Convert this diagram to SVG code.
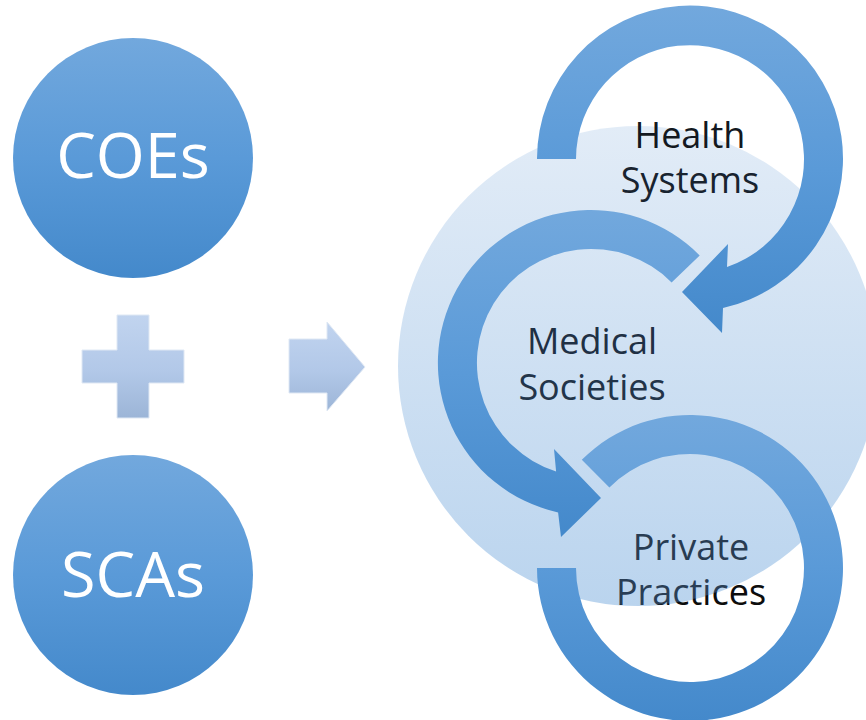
<svg xmlns="http://www.w3.org/2000/svg" width="866" height="720" viewBox="0 0 866 720">
  <defs>
    <linearGradient id="gBlue" x1="0" y1="0" x2="0" y2="1">
      <stop offset="0" stop-color="#72a8dd"/>
      <stop offset="0.5" stop-color="#5a9ad8"/>
      <stop offset="1" stop-color="#4489cb"/>
    </linearGradient>
    <linearGradient id="gPale" x1="0" y1="0" x2="0" y2="1">
      <stop offset="0" stop-color="#e2ecf7"/>
      <stop offset="1" stop-color="#bad4ee"/>
    </linearGradient>
    <linearGradient id="gSign" x1="0" y1="0" x2="0" y2="1">
      <stop offset="0" stop-color="#c1d4ef"/>
      <stop offset="0.55" stop-color="#b2c8e8"/>
      <stop offset="1" stop-color="#9cb5d7"/>
    </linearGradient>
    <radialGradient id="gTextPP" gradientUnits="userSpaceOnUse" cx="638" cy="366" r="240">
      <stop offset="0" stop-color="#2a3e55"/>
      <stop offset="0.995" stop-color="#2a3e55"/>
      <stop offset="1" stop-color="#0d0d0d"/>
    </radialGradient>
  </defs>
  <style>
    .big { font-family: "Open Sans", "Noto Sans", sans-serif; font-size: 63px; fill: #ffffff; text-anchor: middle; }
    .lbl { font-family: "Open Sans", "Noto Sans", sans-serif; font-size: 36px; text-anchor: middle; }
    .ring { fill: url(#gBlue); }
    .sign { fill: url(#gSign); stroke: #dfe8f4; stroke-width: 1; }
  </style>

  <rect x="0" y="0" width="866" height="720" fill="#ffffff"/>

  <g id="node-coes">
    <circle cx="133" cy="158" r="120" fill="url(#gBlue)"/>
    <text class="big" x="133" y="178">COEs</text>
  </g>

  <g id="node-scas">
    <circle cx="133" cy="575" r="120" fill="url(#gBlue)"/>
    <text class="big" x="133" y="597">SCAs</text>
  </g>

  <g id="connectors">
    <polygon id="plus" class="sign" points="117,315 149,315 149,350 184,350 184,383 149,383 149,418 117,418 117,383 82,383 82,350 117,350"/>
    <polygon id="arrow" class="sign" points="289,339 327,339 327,322 365,367 327,411 327,393 289,393"/>
  </g>

  <g id="node-ecosystem">
    <circle cx="638" cy="366" r="240" fill="url(#gPale)"/>
  </g>

  <g id="node-health-systems">
    <path class="ring" d="M 537 159 A 153 153 0 1 1 723 308 L 722 333 L 682 292 L 728 244 L 727 267 A 114 114 0 1 0 576 159 Z"/>
    <text class="lbl" x="690" y="148" fill="#121820">Health</text>
    <text class="lbl" x="690" y="193" fill="#18232f">Systems</text>
  </g>

  <g id="node-medical-societies">
    <path class="ring" d="M 699.7 255.4 A 153 153 0 1 0 558.1 512.4 L 561 537 L 601 498 L 554 449 L 556.1 471.5 A 114 114 0 1 1 671.6 282.4 Z"/>
    <text class="lbl" x="592" y="354" fill="#1f3044">Medical</text>
    <text class="lbl" x="592" y="400" fill="#223449">Societies</text>
  </g>

  <g id="node-private-practices">
    <path class="ring" d="M 581.8 459.8 A 153 153 0 1 1 537 568 L 576 568 A 114 114 0 1 0 609.4 487.4 Z"/>
    <text class="lbl" x="691" y="560" fill="#283c52">Private</text>
    <text class="lbl" x="691" y="605" fill="url(#gTextPP)">Practices</text>
  </g>
</svg>
